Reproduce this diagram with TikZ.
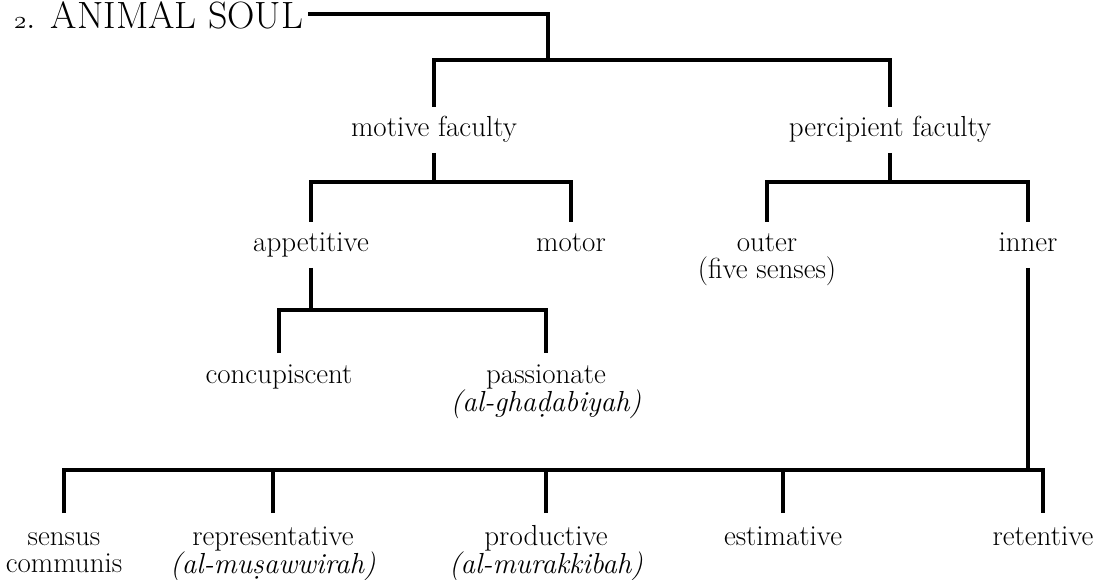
\documentclass[tikz,border=0pt]{standalone}
\usepackage{fontspec}
\newcommand{\dk}{\addfontfeatures{FakeBold=1}}
\begin{document}
\begin{tikzpicture}[x=1pt,y=-1pt,
  ln/.style={line width=4pt, line join=miter},
  lab/.style={font=\fontsize{29}{34}\selectfont\dk, inner sep=0pt, outer sep=10pt,
    anchor=base, text height=20pt, text depth=6pt},
  twolab/.style={font=\fontsize{29}{27}\selectfont\dk, inner sep=0pt, outer sep=10pt,
    anchor=north, align=center}]
\useasboundingbox (0,0) rectangle (1098,580);
% title
\node[font=\fontsize{38}{44}\selectfont\dk, inner sep=0pt, outer sep=5pt, anchor=base west,
  text height=29pt, text depth=0pt] (title) at (9,29) {{\usefont{OML}{cmm}{m}{it}2}. ANIMAL SOUL};
% level 1
\node[lab] (motive) at (434,137) {motive faculty};
\node[lab] (percip) at (890,137) {percipient faculty};
% level 2
\node[lab] (appet) at (311,252) {appetitive};
\node[lab] (motor) at (571,252) {motor};
\node[twolab] (outer) at (767,222) {\rule{0pt}{20pt}outer\\(five senses)};
\node[lab] (inner) at (1028,252) {inner};
% level 3
\node[lab] (concup) at (279,383) {concupiscent};
\node[twolab] (passion) at (546,353) {\rule{0pt}{20pt}passionate\\\itshape(al-gha\d{d}abiyah)};
% level 4
\node[twolab, outer sep=12pt] (sensus) at (64,513) {\rule{0pt}{20pt}sensus\\communis};
\node[twolab, outer sep=12pt] (repr) at (273,513) {\rule{0pt}{20pt}representative\\\itshape(al-mu\d{s}awwirah)};
\node[twolab, outer sep=12pt] (prod) at (546,513) {\rule{0pt}{20pt}productive\\\itshape(al-murakkibah)};
\node[lab, outer sep=12pt] (estim) at (783,545) {estimative};
\node[lab, outer sep=12pt] (retent) at (1043,545) {retentive};
% junctions
\coordinate (r) at (548,60);
\coordinate (m) at (434,182);
\coordinate (p) at (890,182);
\coordinate (a) at (311,310);
\coordinate (i) at (1028,470);
% connectors
\draw[ln] (title.east) -| (r);
\draw[ln] (motive.north) |- (r) -| (percip.north);
\draw[ln] (motive.south) -- (m);
\draw[ln] (appet.north) |- (m) -| (motor.north);
\draw[ln] (percip.south) -- (p);
\draw[ln] (outer.north) |- (p) -| (inner.north);
\draw[ln] (appet.south) -- (a);
\draw[ln] (concup.north) |- (a) -| (passion.north);
\draw[ln] (inner.south) -- (i);
\draw[ln] (sensus.north) |- (i) -| (retent.north);
\draw[ln] (repr.north) -- (repr.north |- i);
\draw[ln] (prod.north) -- (prod.north |- i);
\draw[ln] (estim.north) -- (estim.north |- i);
\end{tikzpicture}
\end{document}
